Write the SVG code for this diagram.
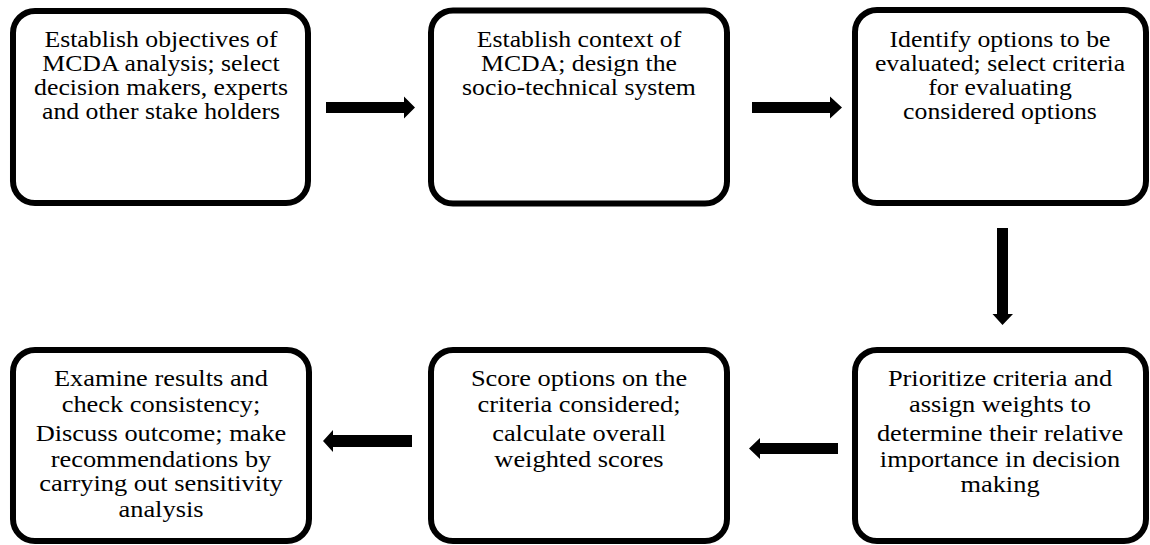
<svg xmlns="http://www.w3.org/2000/svg" width="1150" height="545" viewBox="0 0 1150 545">
<style>
.box{fill:#fff;stroke:#000;stroke-width:6}
.t{font-family:"Liberation Serif","Times New Roman",serif;font-size:23px;fill:#000;text-anchor:middle}
.b{font-size:24px}
.arr{fill:#000}
</style>
<rect width="1150" height="545" fill="#fff"/>
<g id="connectors">
<polygon class="arr" points="326,102 404,102 404,96.5 415,107.5 404,118.5 404,113 326,113"/>
<polygon class="arr" points="752,102 830,102 830,96.5 842,107.5 830,118.5 830,113 752,113"/>
<polygon class="arr" points="997,228 1008,228 1008,314 1013,314 1002.5,325 992.5,314 997,314"/>
<polygon class="arr" points="838,443 760,443 760,438 749,448.5 760,459 760,454 838,454"/>
<polygon class="arr" points="412,435 333,435 333,430 323,441 333,452 333,447 412,447"/>
</g>
<g id="n1">
<rect class="box" x="13" y="11" width="295" height="192" rx="22"/>
<g transform="translate(161 0) scale(1.12 1)">
<text class="t" x="0" y="47">Establish objectives of</text>
<text class="t" x="0" y="71">MCDA analysis; select</text>
<text class="t" x="0" y="95">decision makers, experts</text>
<text class="t" x="0" y="119">and other stake holders</text>
</g>
</g>
<g id="n2">
<rect class="box" x="431" y="10.5" width="296" height="193" rx="22"/>
<g transform="translate(579 0) scale(1.12 1)">
<text class="t" x="0" y="47">Establish context of</text>
<text class="t" x="0" y="71">MCDA; design the</text>
<text class="t" x="0" y="95">socio-technical system</text>
</g>
</g>
<g id="n3">
<rect class="box" x="855" y="10" width="291" height="193" rx="22"/>
<g transform="translate(1000 0) scale(1.12 1)">
<text class="t" x="0" y="47">Identify options to be</text>
<text class="t" x="0" y="71">evaluated; select criteria</text>
<text class="t" x="0" y="95">for evaluating</text>
<text class="t" x="0" y="119">considered options</text>
</g>
</g>
<g id="n4">
<rect class="box" x="855" y="350" width="291" height="191" rx="22"/>
<g transform="translate(1000 0) scale(1.1 1)">
<text class="t b" x="0" y="386">Prioritize criteria and</text>
<text class="t b" x="0" y="412">assign weights to</text>
<text class="t b" x="0" y="441.5">determine their relative</text>
<text class="t b" x="0" y="467">importance in decision</text>
<text class="t b" x="0" y="492.5">making</text>
</g>
</g>
<g id="n5">
<rect class="box" x="431" y="350" width="296" height="191" rx="22"/>
<g transform="translate(579 0) scale(1.1 1)">
<text class="t b" x="0" y="386">Score options on the</text>
<text class="t b" x="0" y="412">criteria considered;</text>
<text class="t b" x="0" y="441.5">calculate overall</text>
<text class="t b" x="0" y="467">weighted scores</text>
</g>
</g>
<g id="n6">
<rect class="box" x="13" y="350" width="296" height="191" rx="22"/>
<g transform="translate(161 0) scale(1.1 1)">
<text class="t b" x="0" y="386.5">Examine results and</text>
<text class="t b" x="0" y="412">check consistency;</text>
<text class="t b" x="0" y="441.5">Discuss outcome; make</text>
<text class="t b" x="0" y="467">recommendations by</text>
<text class="t b" x="0" y="491.5">carrying out sensitivity</text>
<text class="t b" x="0" y="517">analysis</text>
</g>
</g>
</svg>
